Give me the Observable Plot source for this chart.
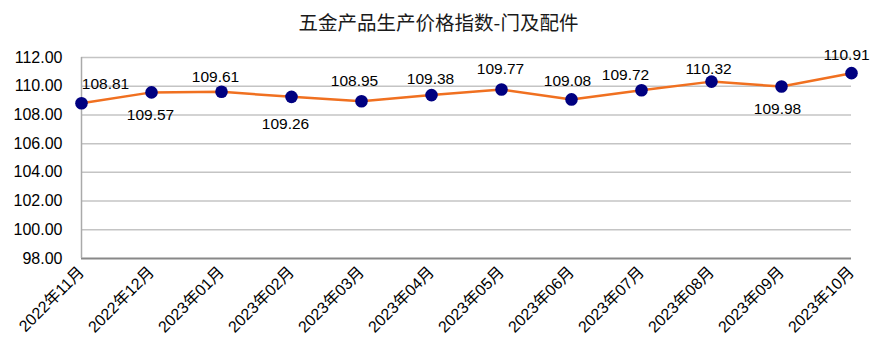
<!DOCTYPE html>
<html><head><meta charset="utf-8">
<script src="https://cdn.jsdelivr.net/npm/d3@7"></script>
<script src="https://cdn.jsdelivr.net/npm/@observablehq/plot@0.6"></script>
<style>
body{margin:0;background:#fff;width:877px;height:357px;overflow:hidden;position:relative}
#title{position:absolute;top:9px;left:0;width:877px;text-align:center;font:19.5px "Noto Sans CJK SC";color:#1a1a1a;line-height:26px}
#chart{position:absolute;top:40px;left:0}
</style></head><body>
<div id="title">五金产品生产价格指数-门及配件</div>
<div id="chart"></div>
<script>
const months = ["2022年11月","2022年12月","2023年01月","2023年02月","2023年03月","2023年04月","2023年05月","2023年06月","2023年07月","2023年08月","2023年09月","2023年10月"];
const values = [108.81,109.57,109.61,109.26,108.95,109.38,109.77,109.08,109.72,110.32,109.98,110.91];
const yTicks = [98,100,102,104,106,108,110,112];
// label placement (pixel offsets from each point)
const labelOffsets = [[24,-19],[-1,23],[-6,-15],[-6,27],[-7,-20],[-1,-16],[-1,-20],[-4,-18],[-16,-15],[-3,-13],[-4,23],[-5,-18]];

const data = months.map((m,i)=>({month:m, value:values[i]}));
const font = '"Liberation Sans", Arial, "Noto Sans CJK SC", sans-serif';

const labelMarks = data.map((d,i)=>Plot.text([d], {x:"month", y:"value", text:d=>d.value.toFixed(2), dx:labelOffsets[i][0], dy:labelOffsets[i][1], fontSize:15.5, fontFamily:font, fill:"#000"}));

const chart = Plot.plot({
  width: 877, height: 317,
  marginLeft: 81, marginRight: 26, marginTop: 17, marginBottom: 99,
  style: {fontFamily: font, color:"#000", background:"#fff"},
  x: {type:"point", domain: months, padding: 0},
  y: {domain:[98,112]},
  marks: [
    Plot.ruleY(yTicks.slice(1), {stroke:"#c4c4c4", strokeWidth:1.5}),
    Plot.ruleY([98], {stroke:"#888", strokeWidth:2}),
    Plot.ruleX([months[0]], {stroke:"#aaa", strokeWidth:1.5}),
    Plot.axisY({ticks:yTicks, tickFormat:d=>d.toFixed(2), tickSize:0, tickPadding:19, fontSize:16, fontFamily:font, label:null}),
    Plot.axisX({tickRotate:-45, tickSize:0, tickPadding:11, fontSize:16, fontFamily:font, label:null}),
    Plot.line(data, {x:"month", y:"value", stroke:"#f07020", strokeWidth:2.5}),
    Plot.dot(data, {x:"month", y:"value", r:6.3, fill:"#000080", stroke:"none"}),
    ...labelMarks
  ]
});
document.getElementById("chart").appendChild(chart);
</script>
</body></html>
